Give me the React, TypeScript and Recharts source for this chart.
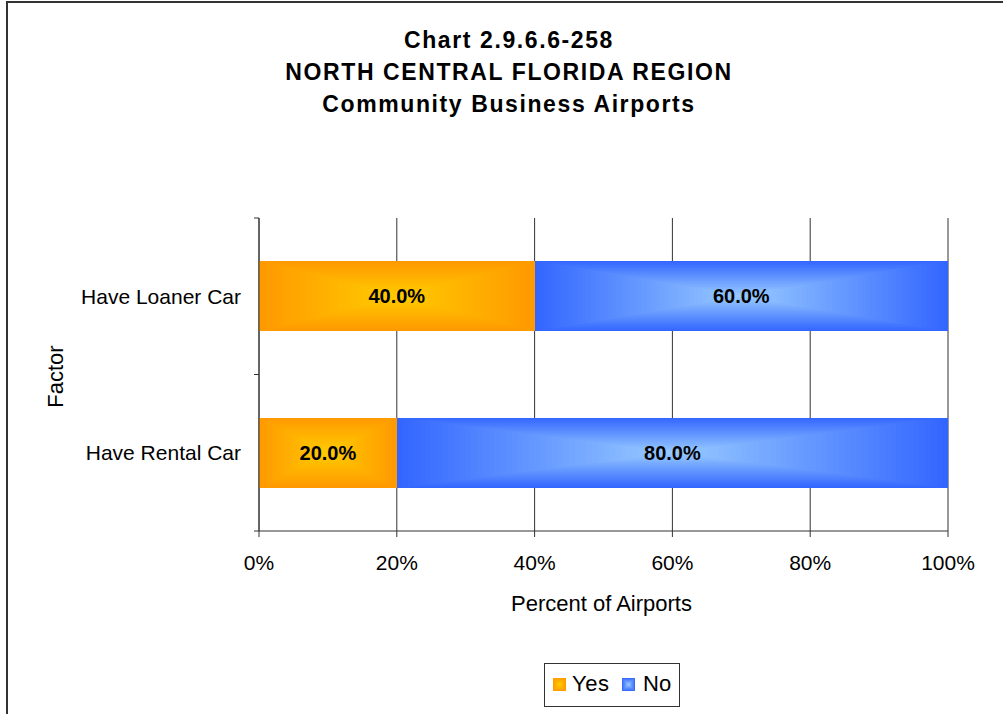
import React from 'react';
import { BarChart, Bar, XAxis, YAxis, CartesianGrid, LabelList } from 'recharts';

const categories = ['Have Loaner Car', 'Have Rental Car'];
const yesValues = [40, 20];
const noValues = [60, 80];
const seriesNames = ['Yes', 'No'];
const xTicks = [0, 20, 40, 60, 80, 100];
const titleLines = ['Chart 2.9.6.6-258', 'NORTH CENTRAL FLORIDA REGION', 'Community Business Airports'];
const xAxisTitle = 'Percent of Airports';
const yAxisTitle = 'Factor';

const data = categories.map((c, i) => ({ factor: c, yes: yesValues[i], no: noValues[i] }));

const FONT = '"Liberation Sans", Arial, Helvetica, sans-serif';
const ORANGE_EDGE = '#FF9900';
const ORANGE_CENTER = '#FFCC00';
const BLUE_EDGE = '#3366FF';
const BLUE_CENTER = '#99CCFF';
const AXIS = '#333333';

function hexToRgb(h: string) {
  const n = parseInt(h.slice(1), 16);
  return [(n >> 16) & 255, (n >> 8) & 255, n & 255];
}
function lerpColor(a: string, b: string, t: number) {
  const A = hexToRgb(a);
  const B = hexToRgb(b);
  const c = A.map((v, i) => Math.round(v + (B[i] - v) * t));
  return `rgb(${c[0]},${c[1]},${c[2]})`;
}

function CenterGradientRect(props: any) {
  const { x, y, width, height, edge, center } = props;
  if (!width || !height) return null;
  const N = 48;
  const rects = [];
  for (let i = 0; i < N; i++) {
    const t = i / N;
    const dx = (t * width) / 2;
    const dy = (t * height) / 2;
    rects.push(
      <rect
        key={i}
        x={x + dx}
        y={y + dy}
        width={Math.max(width - 2 * dx, 0.5)}
        height={Math.max(height - 2 * dy, 0.5)}
        fill={lerpColor(edge, center, t)}
        shapeRendering="crispEdges"
      />
    );
  }
  return <g>{rects}</g>;
}

function YTick(props: any) {
  const { x, y, payload } = props;
  const off = payload && payload.offset ? payload.offset : 78.25;
  const ax = x + 18;
  return (
    <g>
      <text x={x} y={y} dy="0.35em" textAnchor="end" fontSize={21} fontFamily={FONT} fill="#000">
        {payload.value}
      </text>
      <line x1={ax - 5} x2={ax} y1={y - off} y2={y - off} stroke={AXIS} />
      <line x1={ax - 5} x2={ax} y1={y + off} y2={y + off} stroke={AXIS} />
    </g>
  );
}

function LegendSwatch({ edge, center }: { edge: string; center: string }) {
  return (
    <svg width={13} height={13} style={{ display: 'block' }}>
      <CenterGradientRect x={0} y={0} width={13} height={13} edge={edge} center={center} />
    </svg>
  );
}

export default function App() {
  return (
    <div style={{ position: 'fixed', left: 0, top: 0, width: 1003, height: 714, overflow: 'hidden', background: '#fff', fontFamily: FONT }}>
      <div style={{ position: 'absolute', left: 6, top: 1, width: 1200, height: 900, border: '2px solid #333', boxSizing: 'border-box' }} />
      <div style={{ position: 'absolute', left: 0, top: 24, width: 1018, textAlign: 'center', fontSize: 23, fontWeight: 'bold', lineHeight: '32px', letterSpacing: 1.6, color: '#000' }}>
        {titleLines.map((t) => (
          <div key={t}>{t}</div>
        ))}
      </div>
      <div style={{ position: 'absolute', left: 0, top: 0 }}>
        <BarChart
          width={1003}
          height={714}
          data={data}
          layout="vertical"
          margin={{ top: 218, right: 55, bottom: 93, left: 0 }}
          barCategoryGap="27.5%"
        >
          <CartesianGrid horizontal={false} vertical stroke={AXIS} strokeOpacity={1} />
          <XAxis
            type="number"
            domain={[0, 100]}
            ticks={xTicks}
            tickFormatter={(v: number) => `${v}%`}
            height={90}
            stroke={AXIS}
            tickSize={6}
            tickMargin={18}
            tick={{ fontSize: 21, fill: '#000', fontFamily: FONT }}
            interval={0}
            label={{
              content: (p: any) => {
                const vb = p.viewBox || { x: 259, y: 531, width: 689 };
                return (
                  <text x={vb.x + vb.width / 2 - 2} y={vb.y + 80} textAnchor="middle" fontSize={22} fontFamily={FONT} fill="#000">
                    {xAxisTitle}
                  </text>
                );
              },
            }}
          />
          <YAxis
            type="category"
            dataKey="factor"
            width={259}
            stroke={AXIS}
            tickLine={false}
            tickSize={0}
            tickMargin={18}
            tick={<YTick />}
            interval={0}
            label={{
              content: (p: any) => {
                const vb = p.viewBox || { x: 0, y: 218, height: 313 };
                const cx = 55;
                const cy = vb.y + vb.height / 2 + 2;
                return (
                  <text x={cx} y={cy} textAnchor="middle" dominantBaseline="central" transform={`rotate(-90 ${cx} ${cy})`} fontSize={22} fontFamily={FONT} fill="#000">
                    {yAxisTitle}
                  </text>
                );
              },
            }}
          />
          <Bar
            dataKey="yes"
            name={seriesNames[0]}
            stackId="a"
            isAnimationActive={false}
            fill={ORANGE_EDGE}
            shape={(p: any) => <CenterGradientRect {...p} edge={ORANGE_EDGE} center={ORANGE_CENTER} />}
          >
            <LabelList
              dataKey="yes"
              position="center"
              formatter={(v: any) => `${Number(v).toFixed(1)}%`}
              fill="#000"
              fontSize={20}
              fontWeight="bold"
              fontFamily={FONT}
            />
          </Bar>
          <Bar
            dataKey="no"
            name={seriesNames[1]}
            stackId="a"
            isAnimationActive={false}
            fill={BLUE_EDGE}
            shape={(p: any) => <CenterGradientRect {...p} edge={BLUE_EDGE} center={BLUE_CENTER} />}
          >
            <LabelList
              dataKey="no"
              position="center"
              formatter={(v: any) => `${Number(v).toFixed(1)}%`}
              fill="#000"
              fontSize={20}
              fontWeight="bold"
              fontFamily={FONT}
            />
          </Bar>
        </BarChart>
      </div>
      <div style={{ position: 'absolute', left: 544, top: 663, width: 136, height: 44, border: '1px solid #333', boxSizing: 'border-box', background: '#fff' }}>
        <div style={{ position: 'absolute', left: 8, top: 14 }}>
          <LegendSwatch edge={ORANGE_EDGE} center={ORANGE_CENTER} />
        </div>
        <div style={{ position: 'absolute', left: 27, top: 6, fontSize: 22, lineHeight: '28px', letterSpacing: 0.5, color: '#000' }}>{seriesNames[0]}</div>
        <div style={{ position: 'absolute', left: 77, top: 14 }}>
          <LegendSwatch edge={BLUE_EDGE} center={BLUE_CENTER} />
        </div>
        <div style={{ position: 'absolute', left: 98, top: 6, fontSize: 22, lineHeight: '28px', color: '#000' }}>{seriesNames[1]}</div>
      </div>
    </div>
  );
}
